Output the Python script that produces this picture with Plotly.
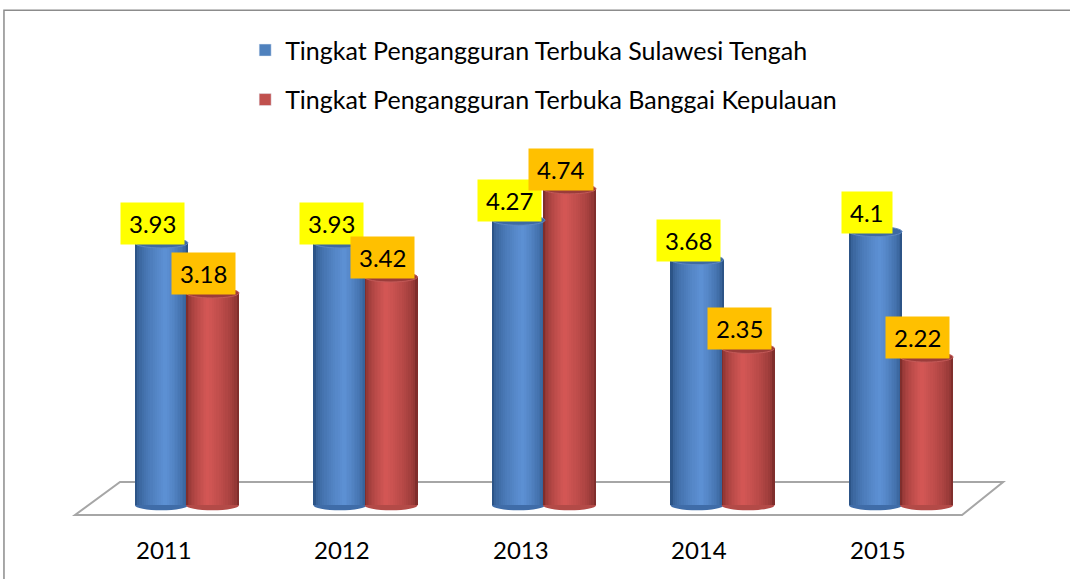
import plotly.graph_objects as go

# ---- data ----
years = ["2011", "2012", "2013", "2014", "2015"]
sulteng = [3.93, 3.93, 4.27, 3.68, 4.1]
banggai = [3.18, 3.42, 4.74, 2.35, 2.22]
series_names = ["Tingkat Pengangguran Terbuka Sulawesi Tengah",
                "Tingkat Pengangguran Terbuka Banggai Kepulauan"]

# ---- styling ----
FONT = "Lato"
BAR_W = 0.297          # bar width in category units
SER_OFF = [-0.143, 0.143]
ELL = 0.075            # half height of cylinder ellipse (y units)
N_LAYERS = 14

styles = [
    dict(edge=(44, 84, 135), light=(94, 146, 214), hl=0.58, top="#3d6aa3",
         rim="#5f89c2", base="#3f6ca8", legend="#4F81BD", label_bg="#FFFF00"),
    dict(edge=(128, 46, 44), light=(214, 88, 86), hl=0.40, top="#9b3c3a",
         rim="#c25a58", base="#b34a47", legend="#C0504D", label_bg="#FFC000"),
]


def mix(c1, c2, t):
    return "rgb(%d,%d,%d)" % tuple(round(a + (b - a) * t) for a, b in zip(c1, c2))


fig = go.Figure()
x_idx = list(range(len(years)))
values = [sulteng, banggai]

shapes = []
# floor (3D base plane)
shapes.append(dict(type="path", xref="x", yref="y", layer="below",
                   path="M -0.375 0.348 L 4.572 0.348 L 4.342 -0.146 L -0.627 -0.146 Z",
                   line=dict(color="#a6a6a6", width=2), fillcolor="white"))
# chart frame
shapes.append(dict(type="rect", xref="paper", yref="paper", layer="below",
                   x0=-0.0602, y0=-0.2, x1=1.2, y1=1.052,
                   line=dict(color="#8c8c8c", width=1.5), fillcolor="rgba(0,0,0,0)"))

annotations = []

for s, (vals, st) in enumerate(zip(values, styles)):
    xs = [i + SER_OFF[s] for i in x_idx]
    # legend entry
    fig.add_trace(go.Bar(x=[None], y=[None], name=series_names[s],
                         marker=dict(color=st["legend"]), legendgroup=str(s)))
    # cylinder bottoms
    for x, v in zip(xs, vals):
        shapes.append(dict(type="circle", xref="x", yref="y", layer="below",
                           x0=x - BAR_W / 2, x1=x + BAR_W / 2, y0=-ELL, y1=ELL,
                           line=dict(width=0), fillcolor=st["base"]))
    # shaded cylinder body built from nested bars
    for k in range(N_LAYERS):
        t = k / N_LAYERS
        left = t * st["hl"] * BAR_W
        right = BAR_W - t * (1 - st["hl"]) * BAR_W
        col = mix(st["edge"], st["light"], t ** 0.55)
        fig.add_trace(go.Bar(
            x=xs, y=vals, width=right - left, offset=left - BAR_W / 2,
            marker=dict(color=col, line=dict(width=0)),
            showlegend=False, hoverinfo="skip", legendgroup=str(s)))
    # cylinder tops + labels
    for x, v in zip(xs, vals):
        shapes.append(dict(type="circle", xref="x", yref="y", layer="above",
                           x0=x - BAR_W / 2, x1=x + BAR_W / 2, y0=v - ELL, y1=v + ELL,
                           line=dict(width=1, color=st["rim"]), fillcolor=st["top"]))
        annotations.append(dict(
            x=x - 0.05, y=v, xref="x", yref="y", text=str(v), showarrow=False,
            yanchor="bottom", xanchor="center", yshift=-2,
            font=dict(family=FONT, size=24, color="black"),
            bgcolor=st["label_bg"], borderpad=8, height=25))

# category labels
for i, yr in zip(x_idx, years):
    annotations.append(dict(x=i - 0.13, y=-0.67, xref="x", yref="y", text=yr,
                            showarrow=False, font=dict(family=FONT, size=24, color="black")))

fig.update_layout(
    width=1070, height=579,
    margin=dict(l=62, r=44, t=38, b=7),
    paper_bgcolor="white", plot_bgcolor="white",
    barmode="overlay", bargap=0,
    xaxis=dict(range=[-0.7, 4.7], visible=False, fixedrange=True),
    yaxis=dict(range=[-1.0, 7.0], visible=False, fixedrange=True),
    shapes=shapes, annotations=annotations,
    legend=dict(x=0.19, y=1.02, xanchor="left", yanchor="top",
                font=dict(family=FONT, size=25, color="black"),
                tracegroupgap=14, traceorder="grouped", bgcolor="rgba(0,0,0,0)"),
    font=dict(family=FONT),
)

fig.write_html("out.html", config={"displayModeBar": False},
               post_script="document.body.style.margin='0';")
